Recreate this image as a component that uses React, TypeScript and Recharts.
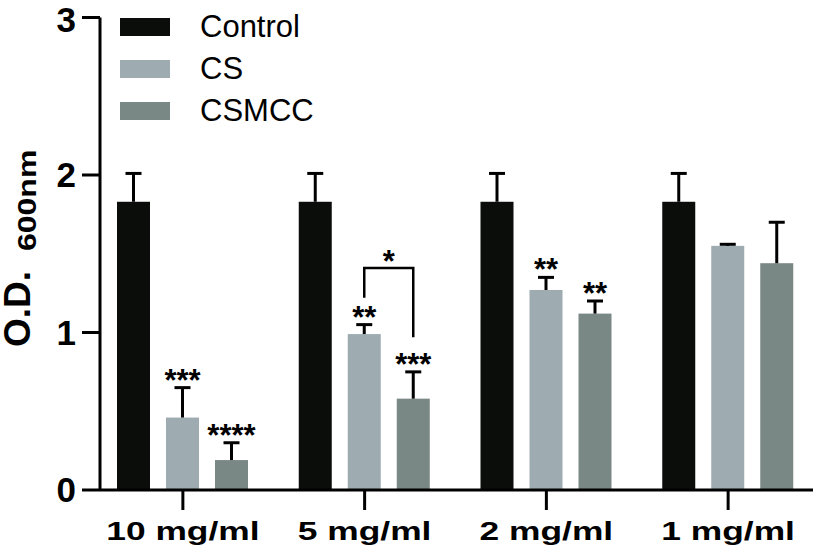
import React from 'react';
import { BarChart, Bar, XAxis, YAxis, Legend } from 'recharts';

const categories = ['10 mg/ml', '5 mg/ml', '2 mg/ml', '1 mg/ml'];
const controlValues = [1.83, 1.83, 1.83, 1.83];
const controlErrors = [0.18, 0.18, 0.18, 0.18];
const csValues = [0.46, 0.99, 1.27, 1.55];
const csErrors = [0.19, 0.06, 0.08, 0.01];
const csmccValues = [0.19, 0.58, 1.12, 1.44];
const csmccErrors = [0.11, 0.17, 0.08, 0.26];
const csSig = ['***', '**', '**', ''];
const csmccSig = ['****', '***', '**', ''];
const yTicks = [0, 1, 2, 3];
// significance bracket between CS and CSMCC at 5 mg/ml
const bracketCategory = '5 mg/ml';
const bracketTop = 1.41;
const bracketLeftEnd = 1.22;
const bracketRightEnd = 0.97;
const bracketLabel = '*';

const series = [
  { key: 'control', name: 'Control', color: '#0b0d0b' },
  { key: 'cs', name: 'CS', color: '#9eacb1' },
  { key: 'csmcc', name: 'CSMCC', color: '#798785' },
];

const data = categories.map((c, i) => ({
  category: c,
  control: controlValues[i],
  controlErr: controlErrors[i],
  controlSig: '',
  cs: csValues[i],
  csErr: csErrors[i],
  csSig: csSig[i],
  csmcc: csmccValues[i],
  csmccErr: csmccErrors[i],
  csmccSig: csmccSig[i],
}));

const FONT = '"Liberation Sans", Arial, Helvetica, sans-serif';

const makeShape = (key: string, color: string, withBracket: boolean) => (props: any) => {
  const { x, y, width, height, payload } = props;
  const value = payload[key];
  const err = payload[key + 'Err'];
  const sig = payload[key + 'Sig'];
  const k = value ? height / value : 0;
  const cx = x + width / 2;
  const capY = y - err * k;
  const baseY = y + height;
  const els: any[] = [];
  els.push(<rect key="r" x={x} y={y} width={width} height={height} fill={color} />);
  els.push(<line key="v" x1={cx} x2={cx} y1={y} y2={capY} stroke="#000" strokeWidth={3} />);
  els.push(<line key="c" x1={cx - 8} x2={cx + 8} y1={capY} y2={capY} stroke="#000" strokeWidth={3} />);
  if (sig) {
    els.push(
      <text key="s" x={cx} y={capY + 3} textAnchor="middle" fontFamily={FONT} fontWeight="bold" fontSize={31} fill="#000">
        {sig}
      </text>
    );
  }
  if (withBracket && payload.category === bracketCategory && k) {
    const leftX = cx - width - 16;
    const topY = baseY - bracketTop * k;
    const lY = baseY - bracketLeftEnd * k;
    const rY = baseY - bracketRightEnd * k;
    els.push(
      <polyline
        key="b"
        points={`${leftX},${lY} ${leftX},${topY} ${cx},${topY} ${cx},${rY}`}
        fill="none"
        stroke="#000"
        strokeWidth={2.5}
      />
    );
    els.push(
      <text key="bl" x={(leftX + cx) / 2} y={topY + 4} textAnchor="middle" fontFamily={FONT} fontWeight="bold" fontSize={31} fill="#000">
        {bracketLabel}
      </text>
    );
  }
  return <g>{els}</g>;
};

const XTick = (props: any) => {
  const { x, y, payload } = props;
  return (
    <text
      transform={`translate(${x},${y}) scale(1.36,1)`}
      textAnchor="middle"
      dy="0.71em"
      fontFamily={FONT}
      fontWeight="bold"
      fontSize={26}
      fill="#000"
    >
      {payload.value}
    </text>
  );
};

const YLabel = () => (
  <g>
    <text transform="translate(30,347) rotate(-90)" fontFamily={FONT} fontWeight="bold" fontSize={37} fill="#000">
      O.D.
    </text>
    <text transform="translate(36,251) rotate(-90) scale(1.28,1)" fontFamily={FONT} fontWeight="bold" fontSize={25} fill="#000">
      600nm
    </text>
  </g>
);

const LegendContent = () => (
  <div style={{ fontFamily: FONT }}>
    {series.map((s) => (
      <div key={s.key} style={{ display: 'flex', alignItems: 'center', height: 42 }}>
        <div style={{ width: 50, height: 18, background: s.color }} />
        <span style={{ marginLeft: 30, fontSize: 31, color: '#000', lineHeight: '42px' }}>{s.name}</span>
      </div>
    ))}
  </div>
);

export default function App() {
  return (
    <div style={{ position: 'absolute', left: 0, top: 0, background: '#fff' }}>
      <BarChart
        width={819}
        height={556}
        data={data}
        margin={{ top: 17.5, right: 6, bottom: 0, left: 0 }}
        barSize={33}
        barGap={16}
      >
        <XAxis
          dataKey="category"
          padding={{ left: -8, right: -6 }}
          axisLine={{ stroke: '#000', strokeWidth: 3 }}
          tickLine={{ stroke: '#000', strokeWidth: 3 }}
          tickSize={20}
          tickMargin={12}
          tick={<XTick />}
          interval={0}
          height={66}
        />
        <YAxis
          domain={[0, 3]}
          ticks={yTicks}
          width={100}
          axisLine={{ stroke: '#000', strokeWidth: 3 }}
          tickLine={{ stroke: '#000', strokeWidth: 3 }}
          tickSize={18}
          tickMargin={6}
          tick={{ fill: '#000', fontSize: 35, fontWeight: 'bold', fontFamily: FONT }}
          label={<YLabel />}
        />
        <Legend
          layout="vertical"
          align="center"
          verticalAlign="middle"
          content={<LegendContent />}
          wrapperStyle={{ position: 'absolute', top: 6, left: 120, width: 'auto', height: 'auto' }}
        />
        {series.map((s) => (
          <Bar
            key={s.key}
            dataKey={s.key}
            name={s.name}
            fill={s.color}
            isAnimationActive={false}
            shape={makeShape(s.key, s.color, s.key === 'csmcc')}
          />
        ))}
      </BarChart>
    </div>
  );
}
